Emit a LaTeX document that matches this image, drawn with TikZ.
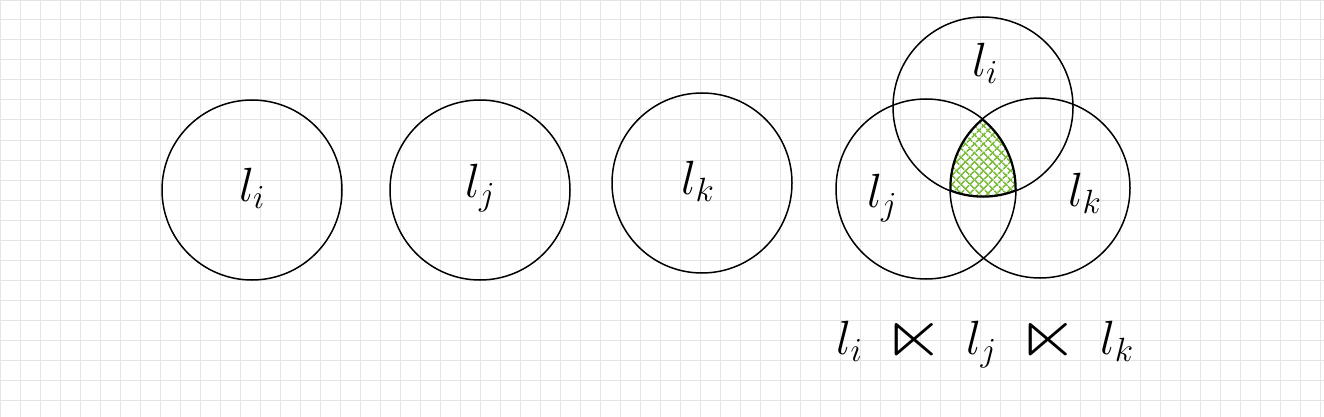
\documentclass[tikz,border=0pt]{standalone}
\usepackage{fix-cm}
\usepackage{amssymb}
\usepackage{graphicx}
\usetikzlibrary{patterns.meta}
\definecolor{gridc}{RGB}{228,228,228}
\definecolor{hatchc}{RGB}{124,189,60}
\newcommand{\bigltimes}{\mathbin{\raisebox{-0.05em}{\scalebox{1.65}[1.4]{$\ltimes$}}}}
\tikzset{
  ring/.style={circle, draw=black, line width=1.5pt, minimum size=180pt, inner sep=0pt},
  lab/.style={font=\fontsize{48}{52}\selectfont, inner sep=0pt},
}
\begin{document}
\begin{tikzpicture}[x=1pt,y=-1pt]
\fill[white] (0,0) rectangle (1324,417);
\useasboundingbox (0,0) rectangle (1324,417);
\draw[gridc, line width=1pt] (0,0) grid[step=20pt] (1324,417);
% single circles
\node[ring] (c1) at (252,190) {};
\node[ring] (c2) at (480,190) {};
\node[ring] (c3) at (702,183) {};
\node[lab] (t1) at (252,188) {$l_i$};
\node[lab] (t2) at (480,188) {$l_j$};
\node[lab] (t3) at (698,181) {$l_k$};
% venn
\coordinate (vi) at (983,107);
\coordinate (vj) at (926,189);
\coordinate (vk) at (1040,188);
\begin{scope}
  \clip (vi) circle (90);
  \clip (vj) circle (90);
  \clip (vk) circle (90);
  \fill[pattern={Lines[angle=45,distance=6.5pt,line width=1.6pt]}, pattern color=hatchc] (vi) circle (90);
  \fill[pattern={Lines[angle=-45,distance=6.5pt,line width=1.6pt]}, pattern color=hatchc] (vi) circle (90);
  \draw[line width=3pt] (vi) circle (90) (vj) circle (90) (vk) circle (90);
\end{scope}
\node[ring] (ci) at (vi) {};
\node[ring] (cj) at (vj) {};
\node[ring] (ck) at (vk) {};
\node[lab] (ti) at (985,63) {$l_i$};
\node[lab] (tj) at (882,198) {$l_j$};
\node[lab] (tk) at (1085,193) {$l_k$};
\node[lab] (eq) at (985,343) {$l_i\mskip4mu\bigltimes\mskip4mu l_j\mskip4mu\bigltimes\mskip4mu l_k$};
\end{tikzpicture}
\end{document}
